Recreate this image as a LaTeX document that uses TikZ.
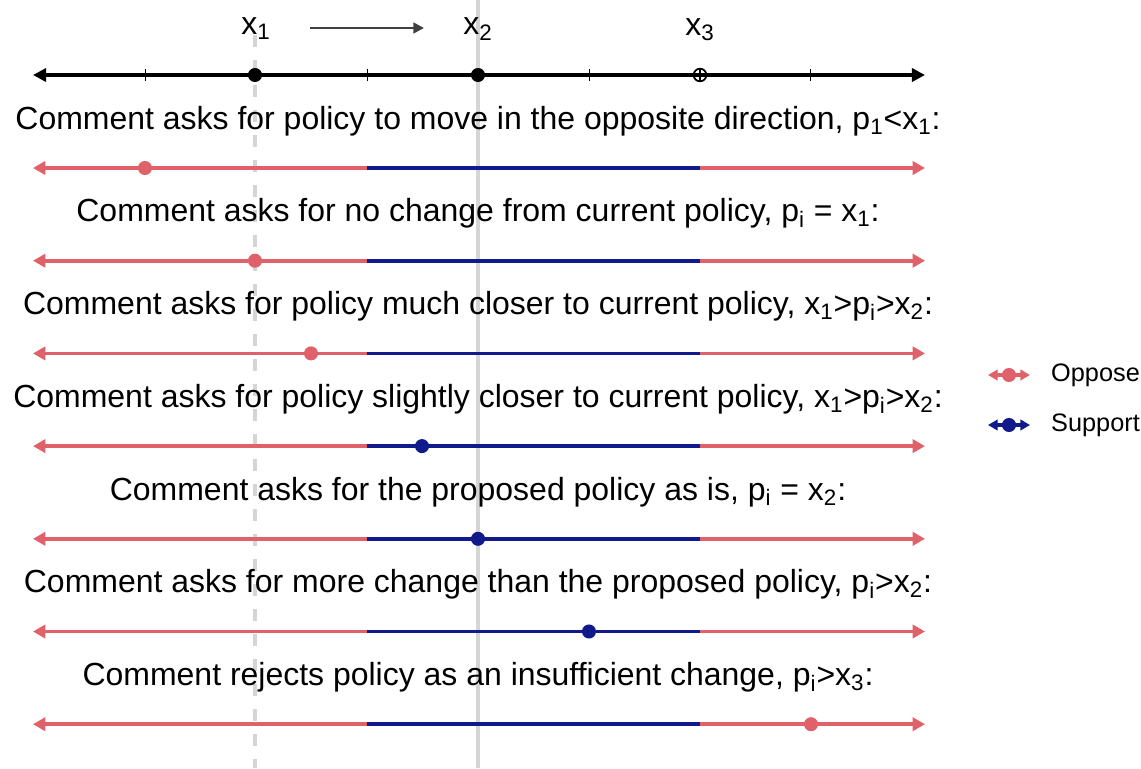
\documentclass[tikz,border=0pt]{standalone}
\usepackage{fontspec}
\setmainfont{Liberation Sans}
\usetikzlibrary{arrows.meta}
\definecolor{oppose}{HTML}{DF626B}
\definecolor{support}{HTML}{111A8A}
\definecolor{guide}{HTML}{D5D5D5}
\definecolor{movegray}{HTML}{404040}
\tikzset{
  every node/.style={font=\fontsize{18.2}{22}\selectfont},
  guideline/.style={guide, line width=1.8pt},
  axisline/.style={black, line width=1.9pt, {Triangle[length=7.5pt,width=7.5pt]}-{Triangle[length=7.5pt,width=7.5pt]}},
  segline/.style={line width=2.1pt},
  endarrow/.style={-{Triangle[length=7pt,width=7.5pt]}},
  dot/.style={circle, fill=#1, inner sep=0pt, minimum size=8pt},
  opendot/.style={circle, draw=black, line width=1pt, inner sep=0pt, minimum size=7.2pt},
  keyline/.style={line width=2.1pt, {Triangle[length=5.5pt,width=6pt]}-{Triangle[length=5.5pt,width=6pt]}},
  keytext/.style={anchor=west, font=\fontsize{14.4}{17}\selectfont}
}
\begin{document}
\begin{tikzpicture}[x=0.02cm, y=-0.02cm]
\useasboundingbox (0,0) rectangle (1141,768);
\coordinate (g1top) at (255,35);
\coordinate (g1bot) at (255,768);
\coordinate (g2top) at (478,0);
\coordinate (g2bot) at (478,768);
\draw[guideline, dash pattern=on 6.8pt off 7.4pt] (g1top) -- (g1bot);
\draw[guideline] (g2top) -- (g2bot);
\coordinate (axL) at (33,75);
\coordinate (axR) at (925,75);
\draw[axisline] (axL) -- (axR);
\foreach \t in {145,367,589,810}
  \draw[black, line width=0.5pt] (\t,69) -- (\t,81);
\node[dot=black] (x1) at (255,75) {};
\node[dot=black] (x2) at (478,75) {};
\node[opendot] (x3) at (700,75) {};
\draw[black, line width=1pt] (x3.north) -- (x3.south);
\node (lx1) at (256,29) {x\textsubscript{1}};
\node (lx2) at (478,29) {x\textsubscript{2}};
\node (lx3) at (700,30) {x\textsubscript{3}};
\coordinate (mvA) at (310,28);
\coordinate (mvB) at (424,28);
\draw[movegray, line width=1.6pt, -{Triangle[length=6pt,width=6pt]}] (mvA) -- (mvB);
\foreach \i/\dx/\dc/\txt in {
  1/145/oppose/{Comment asks for policy to move in the opposite direction, p\textsubscript{1}<x\textsubscript{1}:},
  2/255/oppose/{Comment asks for no change from current policy, p\textsubscript{i} = x\textsubscript{1}:},
  3/311/oppose/{Comment asks for policy much closer to current policy, x\textsubscript{1}>p\textsubscript{i}>x\textsubscript{2}:},
  4/422/support/{Comment asks for policy slightly closer to current policy, x\textsubscript{1}>p\textsubscript{i}>x\textsubscript{2}:},
  5/478/support/{Comment asks for the proposed policy as is, p\textsubscript{i} = x\textsubscript{2}:},
  6/589/support/{Comment asks for more change than the proposed policy, p\textsubscript{i}>x\textsubscript{2}:},
  7/811/oppose/{Comment rejects policy as an insufficient change, p\textsubscript{i}>x\textsubscript{3}:}}
{
  \pgfmathsetmacro\ty{121+92.7*(\i-1)}
  \pgfmathsetmacro\ly{\ty+47}
  \node (cap\i) at (478,\ty) {\txt};
  \coordinate (r\i L) at (33,\ly);
  \coordinate (r\i a) at (367,\ly);
  \coordinate (r\i b) at (700,\ly);
  \coordinate (r\i R) at (925,\ly);
  \draw[oppose, segline, endarrow] (r\i a) -- (r\i L);
  \draw[support, segline] (r\i a) -- (r\i b);
  \draw[oppose, segline, endarrow] (r\i b) -- (r\i R);
  \node[dot=\dc] (pt\i) at (\dx,\ly) {};
}
\coordinate (kOa) at (988,375);
\coordinate (kOb) at (1030,375);
\draw[oppose, keyline] (kOa) -- (kOb);
\node[dot=oppose] (kOdot) at (1009,375) {};
\node[keytext] (kOtxt) at (1045,375) {Oppose};
\coordinate (kSa) at (988,425);
\coordinate (kSb) at (1030,425);
\draw[support, keyline] (kSa) -- (kSb);
\node[dot=support] (kSdot) at (1009,425) {};
\node[keytext] (kStxt) at (1045,425) {Support};
\end{tikzpicture}
\end{document}
